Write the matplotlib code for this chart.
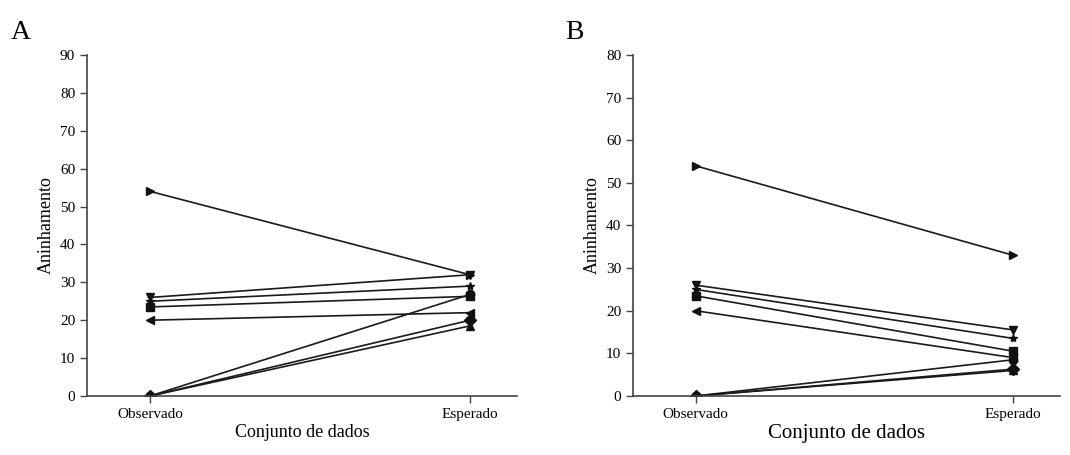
import matplotlib
matplotlib.use("Agg")
from matplotlib import pyplot as plt

plt.rcParams["font.family"] = ["Liberation Serif", "DejaVu Serif"]

categories = ["Observado", "Esperado"]
markers = [">", "v", "*", "s", "<", "o", "D", "^"]

# painel A
obs_a = [54, 26, 25, 23.5, 20, 0, 0, 0]
esp_a = [32, 32, 29, 26.3, 22, 26.8, 20, 18.5]

# painel B
obs_b = [54, 26, 25, 23.5, 20, 0, 0, 0]
esp_b = [33, 15.5, 13.5, 10.5, 9, 8.5, 6.3, 6]


def draw_panel(ax, obs, esp, ymax, xlabel_size):
    for o, e, m in zip(obs, esp, markers):
        ax.plot([0, 1], [o, e], color="#1a1a1a", lw=1.2,
                marker=m, ms=6, mfc="#111111", mec="#111111")
    ax.set_ylim(0, ymax)
    ax.set_xlim(-0.197, 1.147)
    ax.set_yticks(range(0, ymax + 1, 10))
    ax.set_xticks([0, 1])
    ax.set_xticklabels(categories, fontsize=11)
    ax.tick_params(axis="y", labelsize=11, length=5, width=1, color="#444444")
    ax.tick_params(axis="x", length=5, width=1, color="#444444")
    for s in ["top", "right"]:
        ax.spines[s].set_visible(False)
    for s in ["left", "bottom"]:
        ax.spines[s].set_color("#444444")
        ax.spines[s].set_linewidth(1.2)
    ax.set_ylabel("Aninhamento", fontsize=13, labelpad=4)
    ax.set_xlabel("Conjunto de dados", fontsize=xlabel_size, labelpad=2)


fig = plt.figure(figsize=(10.7, 4.55), dpi=100)
ax_a = fig.add_axes([0.0813, 0.1297, 0.4019, 0.7495])
ax_b = fig.add_axes([0.5916, 0.1297, 0.399, 0.7495])

draw_panel(ax_a, obs_a, esp_a, 90, 13)
draw_panel(ax_b, obs_b, esp_b, 80, 15)

fig.text(0.010, 0.915, "A", fontsize=20)
fig.text(0.528, 0.915, "B", fontsize=20)

fig.savefig("out.png", dpi=100)
